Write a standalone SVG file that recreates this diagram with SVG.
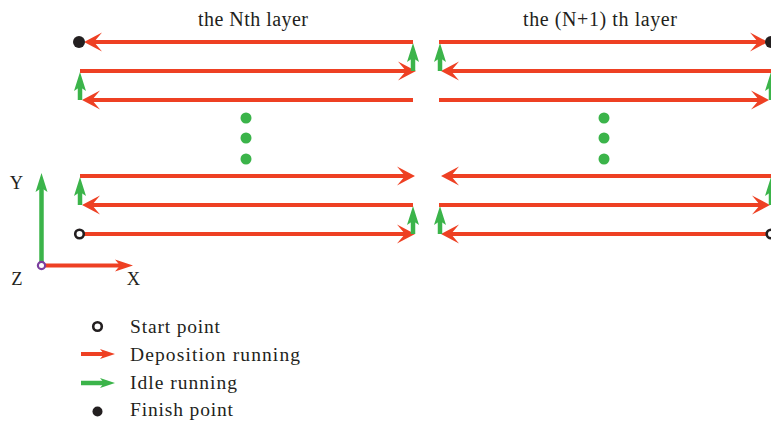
<svg xmlns="http://www.w3.org/2000/svg" width="771" height="424" viewBox="0 0 771 424">
  <style>
    .dep { stroke: #ee4023; stroke-width: 4; fill: none; }
    .idle { stroke: #3bb44a; stroke-width: 4.5; fill: none; }
    .lbl { font-family: "Liberation Serif", "Times New Roman", serif; fill: #231f20; }
    .title { font-size: 20px; }
    .leg { font-size: 19.5px; }
    .ax { font-size: 18.5px; }
    .gap { fill: #3bb44a; }
  </style>
  <defs>
    <!-- swept arrowheads; line ends sit at the notch -->
    <marker id="headDep" viewBox="-20 -10 20 20" refX="-10" refY="0" markerWidth="20" markerHeight="20" markerUnits="userSpaceOnUse" orient="auto" overflow="visible">
      <path d="M0,0 L-18,-9.5 L-10,0 L-18,9.5 Z" fill="#ee4023"/>
    </marker>
    <marker id="headIdle" viewBox="-20 -10 20 20" refX="-14" refY="0" markerWidth="20" markerHeight="20" markerUnits="userSpaceOnUse" orient="auto" overflow="visible">
      <path d="M0,0 L-19,-6 L-15,0 L-19,6 Z" fill="#3bb44a"/>
    </marker>
    <marker id="headAxis" viewBox="-20 -10 20 20" refX="-12" refY="0" markerWidth="20" markerHeight="20" markerUnits="userSpaceOnUse" orient="auto" overflow="visible">
      <path d="M0,0 L-18,-6 L-13,0 L-18,6 Z" fill="#ee4023"/>
    </marker>
    <marker id="headLegDep" viewBox="-20 -10 20 20" refX="-11" refY="0" markerWidth="20" markerHeight="20" markerUnits="userSpaceOnUse" orient="auto" overflow="visible">
      <path d="M0,0 L-15,-5 L-11,0 L-15,5 Z" fill="#ee4023"/>
    </marker>
    <marker id="headLegIdle" viewBox="-20 -10 20 20" refX="-11" refY="0" markerWidth="20" markerHeight="20" markerUnits="userSpaceOnUse" orient="auto" overflow="visible">
      <path d="M0,0 L-15,-5 L-11,0 L-15,5 Z" fill="#3bb44a"/>
    </marker>
  </defs>

  <rect width="771" height="424" fill="#ffffff"/>

  <!-- layer titles -->
  <g id="title-n">
    <text class="lbl title" x="198" y="26" textLength="110" lengthAdjust="spacing">the Nth layer</text>
  </g>
  <g id="title-n1">
    <text class="lbl title" x="523" y="26" textLength="154" lengthAdjust="spacing">the (N+1) th layer</text>
  </g>

  <!-- toolpath moves -->
  <g id="connectors">
    <!-- Nth layer: serpentine from bottom-left up to top-left -->
    <line class="dep" x1="80" y1="234" x2="405" y2="234" marker-end="url(#headDep)"/>
    <line class="idle" x1="413" y1="234" x2="413" y2="220" marker-end="url(#headIdle)"/>
    <line class="dep" x1="413" y1="205" x2="92" y2="205" marker-end="url(#headDep)"/>
    <line class="idle" x1="80" y1="205" x2="80" y2="191" marker-end="url(#headIdle)"/>
    <line class="dep" x1="80" y1="176" x2="405" y2="176" marker-end="url(#headDep)"/>
    <line class="dep" x1="413" y1="100" x2="92" y2="100" marker-end="url(#headDep)"/>
    <line class="idle" x1="80" y1="100" x2="80" y2="86" marker-end="url(#headIdle)"/>
    <line class="dep" x1="80" y1="71" x2="406" y2="71" marker-end="url(#headDep)"/>
    <line class="idle" x1="413" y1="71" x2="413" y2="57" marker-end="url(#headIdle)"/>
    <line class="dep" x1="413" y1="42" x2="94" y2="42" marker-end="url(#headDep)"/>

    <!-- (N+1)th layer: serpentine from bottom-right up to top-right -->
    <line class="dep" x1="771" y1="234" x2="451" y2="234" marker-end="url(#headDep)"/>
    <line class="idle" x1="440" y1="234" x2="440" y2="220" marker-end="url(#headIdle)"/>
    <line class="dep" x1="439" y1="205" x2="760" y2="205" marker-end="url(#headDep)"/>
    <line class="idle" x1="771" y1="205" x2="771" y2="191" marker-end="url(#headIdle)"/>
    <line class="dep" x1="771" y1="176" x2="451" y2="176" marker-end="url(#headDep)"/>
    <line class="dep" x1="439" y1="100" x2="759" y2="100" marker-end="url(#headDep)"/>
    <line class="idle" x1="771" y1="100" x2="771" y2="86" marker-end="url(#headIdle)"/>
    <line class="dep" x1="771" y1="71" x2="451" y2="71" marker-end="url(#headDep)"/>
    <line class="idle" x1="440" y1="71" x2="440" y2="57" marker-end="url(#headIdle)"/>
    <line class="dep" x1="439" y1="42" x2="758" y2="42" marker-end="url(#headDep)"/>
  </g>

  <!-- omitted rows -->
  <g id="ellipsis-n">
    <circle class="gap" cx="246" cy="118" r="5.5"/>
    <circle class="gap" cx="246" cy="138" r="5.5"/>
    <circle class="gap" cx="246" cy="159" r="5.5"/>
  </g>
  <g id="ellipsis-n1">
    <circle class="gap" cx="604" cy="118" r="5.5"/>
    <circle class="gap" cx="604" cy="138" r="5.5"/>
    <circle class="gap" cx="604" cy="159" r="5.5"/>
  </g>

  <!-- start and finish points -->
  <g id="start-n">
    <circle cx="79.5" cy="234" r="4.3" fill="#ffffff" stroke="#231f20" stroke-width="2.6"/>
  </g>
  <g id="finish-n">
    <circle cx="79" cy="42" r="6" fill="#231f20"/>
  </g>
  <g id="start-n1">
    <circle cx="771" cy="234" r="4.3" fill="#ffffff" stroke="#231f20" stroke-width="2.6"/>
  </g>
  <g id="finish-n1">
    <circle cx="771" cy="42" r="6" fill="#231f20"/>
  </g>

  <!-- coordinate axes -->
  <g id="axes">
    <line class="idle" x1="41.5" y1="265" x2="41.5" y2="187" marker-end="url(#headIdle)"/>
    <line class="dep" x1="42" y1="265.5" x2="121" y2="265.5" stroke-width="3.5" marker-end="url(#headAxis)"/>
    <circle cx="41.5" cy="265.5" r="3.6" fill="#ffffff" stroke="#7b3f9e" stroke-width="2.2"/>
    <text class="lbl ax" x="16.5" y="189" text-anchor="middle">Y</text>
    <text class="lbl ax" x="17" y="285" text-anchor="middle">Z</text>
    <text class="lbl ax" x="133.5" y="285" text-anchor="middle">X</text>
  </g>

  <!-- legend -->
  <g id="legend">
    <circle cx="97.5" cy="326.5" r="4.3" fill="#ffffff" stroke="#231f20" stroke-width="2.6"/>
    <line class="dep" x1="81" y1="354" x2="104" y2="354" marker-end="url(#headLegDep)"/>
    <line class="idle" x1="81" y1="383" x2="104" y2="383" stroke-width="4" marker-end="url(#headLegIdle)"/>
    <circle cx="97.5" cy="411.5" r="5" fill="#231f20"/>
    <text class="lbl leg" x="130" y="332.5" textLength="90" lengthAdjust="spacing">Start point</text>
    <text class="lbl leg" x="130" y="361" textLength="170" lengthAdjust="spacing">Deposition running</text>
    <text class="lbl leg" x="130" y="389" textLength="107" lengthAdjust="spacing">Idle running</text>
    <text class="lbl leg" x="130" y="416" textLength="103" lengthAdjust="spacing">Finish point</text>
  </g>
</svg>
